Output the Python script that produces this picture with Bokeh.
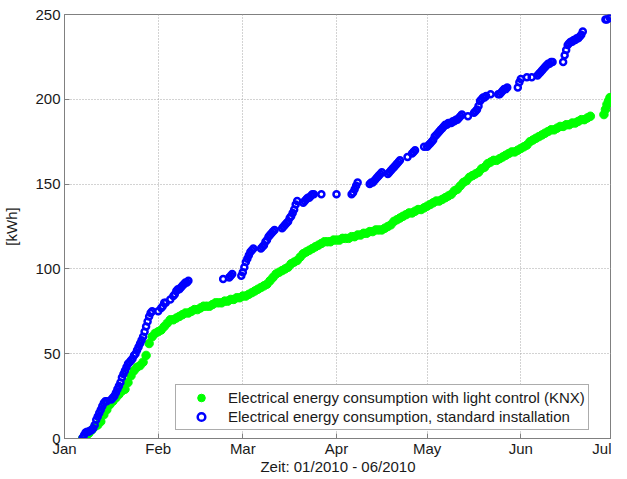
from bokeh.plotting import figure
from bokeh.models import FixedTicker, Range1d, Legend, LegendItem
from bokeh.embed import file_html
from bokeh.resources import INLINE

# ---- tick labels -------------------------------------------------------
month_labels = ["Jan", "Feb", "Mar", "Apr", "May", "Jun", "Jul"]
month_lengths = [31, 28, 31, 30, 31, 30]
y_ticks = [0, 50, 100, 150, 200, 250]

# ---- series: with light control (KNX), day of year 2010 (0 = 1 Jan) ----
knx_day = list(range(6, 175)) + [178.5, 179, 179.5, 180, 180.5]
knx_kwh = [
    0, 1, 3, 5, 7, 8, 10, 14, 17, 20, 22, 24, 26, 28, 29, 33, 37, 40, 42, 43,
    45, 49, 56, 60, 62, 63, 64, 66, 68, 70, 70, 71, 72, 73, 74, 74, 75, 76, 76, 77,
    78, 78, 78, 79, 80, 80, 80, 81, 81, 82, 82, 83, 83, 84, 84, 85, 86, 87, 88, 89,
    90, 91, 93, 95, 97, 98, 99, 100, 101, 103, 104, 105, 107, 109, 110, 111, 112, 113, 114, 115,
    116, 116, 116, 117, 117, 117, 118, 118, 118, 119, 119, 120, 120, 121, 121, 122, 122, 123, 123, 123,
    124, 125, 126, 128, 129, 130, 131, 132, 133, 133, 134, 135, 135, 136, 137, 138, 139, 140, 140, 141,
    142, 143, 144, 146, 147, 149, 151, 152, 154, 155, 156, 157, 159, 160, 162, 163, 164, 164, 165, 166,
    167, 168, 169, 169, 170, 171, 172, 173, 175, 176, 177, 178, 179, 180, 181, 182, 182, 183, 184, 184,
    185, 185, 186, 186, 187, 188, 188, 189, 190,
    191, 194, 197, 199, 201,
]

# ---- series: standard installation ------------------------------------
std_day = [
    6.0, 6.5, 7.0, 7.5, 8.0, 8.5, 9.0, 9.5, 10.0, 10.5, 11.0, 11.5, 12.0, 12.5, 13.0, 13.5, 14.0,
    15.5, 16.0, 16.5, 17.0, 17.5, 18.0, 18.5, 19.0, 19.5, 20.0, 20.5, 21.0, 21.5, 22.0, 22.5,
    23.0, 23.5, 24.0, 24.5, 25.0, 25.5, 26.0, 26.5, 27.0, 27.5, 28.0, 28.5, 29.0,
    31.0,
    32.0, 32.5, 33.0, 33.5,
    35.0,
    36.0, 36.5, 37.0, 37.5, 38.0, 38.5, 39.0, 39.5, 40.0, 40.5, 41.0,
    52.5,
    54.5, 55.0, 55.5,
    58.5, 59.0, 59.5, 60.0, 60.5, 61.0, 61.5, 62.0, 62.5,
    65.0, 65.5, 66.0, 66.5, 67.0, 67.5, 68.0, 68.5, 69.0, 69.5,
    72.0, 72.5, 73.0, 73.5, 74.0, 74.5, 75.0, 75.5, 76.0, 76.5, 77.0,
    79.0, 79.5, 80.0, 80.5, 81.0, 81.5, 82.0, 82.5,
    85.0, 90.0,
    95.0, 95.5, 96.0, 96.5, 97.0,
    101.0, 101.5, 102.0, 102.5, 103.0, 103.5, 104.0, 104.5, 105.0,
    107.0, 107.5, 108.0, 108.5, 109.0, 109.5, 110.0, 110.5, 111.0,
    113.5,
    115.0, 115.5, 116.0,
    119.0,
    120.0, 120.5, 121.0, 121.5, 122.0, 122.5, 123.0, 123.5, 124.0, 124.5, 125.0, 125.5,
    126.0, 126.5, 127.0, 127.5, 128.0, 128.5, 129.0, 129.5, 130.0, 130.5, 131.0, 131.5,
    133.5,
    135.5, 136.0, 136.5, 137.0, 137.5, 138.0, 138.5, 139.0, 139.5,
    141.0,
    143.5, 144.0, 144.5, 145.0, 145.5, 146.0, 146.5,
    150.0, 150.5, 151.0,
    153.0, 154.6,
    156.5, 157.0, 157.5, 158.0, 158.5, 159.0, 159.5, 160.0, 160.5, 161.0, 161.5,
    165.0, 165.5, 166.0, 166.5, 167.0, 167.5, 168.0, 168.5, 169.0, 169.5, 170.0, 170.5, 171.0, 171.5,
    179.0, 179.5, 180.5,
]
std_kwh = [
    0.5, 2, 3.5, 4, 4, 4.5, 5, 6, 8, 11, 13, 15, 17, 19, 21, 22, 22,
    23, 24, 25, 27, 29, 31, 33, 36, 38, 40, 42, 44, 45, 46, 47,
    49, 50, 52, 54, 56, 58, 60, 63, 66, 69, 72, 74, 75,
    75,
    77, 78, 80, 80,
    82,
    84, 85, 87, 88, 88, 89, 90, 91, 92, 92, 93,
    94,
    95, 96, 97,
    96, 98, 101, 104, 106, 108, 110, 111, 112,
    112, 113, 114, 116, 117, 119, 120, 121, 122, 123,
    124, 125, 126, 127, 128, 130, 131, 133, 135, 138, 140,
    139, 140, 141, 142, 142, 143, 144, 144,
    144, 144,
    144, 145, 147, 149, 151,
    150, 151, 151, 152, 153, 154, 155, 156, 157,
    156, 157, 158, 159, 160, 161, 162, 163, 164,
    166,
    168, 169, 170,
    172,
    172, 173, 174, 175, 176, 178, 179, 180, 181, 182, 183, 184,
    185, 185, 186, 186, 186, 187, 187, 188, 188, 189, 190, 191,
    190,
    192, 193, 194, 196, 199, 200, 201, 201, 202,
    203,
    203, 203, 204, 205, 206, 206, 207,
    207, 210, 212,
    213, 213,
    214, 215, 216, 217, 218, 219, 220, 221, 221, 222, 222,
    222, 226, 229, 232, 233, 234, 234, 235, 235, 236, 236, 237, 238, 240,
    247, 247, 248,
]

legend_labels = [
    "Electrical energy consumption with light control (KNX)",
    "Electrical energy consumption, standard installation",
]
x_label = "Zeit: 01/2010 - 06/2010"
y_label = "[kWh]"

month_starts = [0]
for n in month_lengths:
    month_starts.append(month_starts[-1] + n)

FONT = "Liberation Sans"
TXT = "#1a1a1a"
FRAME = "#808080"

p = figure(
    width=611, height=477,
    x_range=Range1d(0, month_starts[-1]), y_range=Range1d(0, 250),
    output_backend="svg", toolbar_location=None,
    min_border_left=59, min_border_right=0, min_border_top=14, min_border_bottom=13,
    background_fill_color="white", border_fill_color="white",
)
p.outline_line_color = FRAME
p.outline_line_width = 1

# axes
p.xaxis.ticker = FixedTicker(ticks=month_starts)
p.xaxis.major_label_overrides = {m: lab for m, lab in zip(month_starts, month_labels)}
p.yaxis.ticker = FixedTicker(ticks=y_ticks)
for ax in (p.xaxis[0], p.yaxis[0]):
    ax.axis_line_color = FRAME
    ax.major_tick_line_color = FRAME
    ax.major_tick_in = 5
    ax.major_tick_out = 0
    ax.minor_tick_line_color = None
    ax.major_label_text_font = FONT
    ax.major_label_text_font_size = "15px"
    ax.major_label_text_color = TXT
    ax.axis_label_text_font = FONT
    ax.axis_label_text_font_size = "15px"
    ax.axis_label_text_font_style = "normal"
    ax.axis_label_text_color = TXT
p.xaxis.axis_label = x_label
p.yaxis.axis_label = y_label
p.xaxis.major_label_standoff = 1
p.xaxis.axis_label_standoff = -2
p.yaxis.major_label_standoff = 4
p.yaxis.axis_label_standoff = 12

# grid
for g in (p.xgrid[0], p.ygrid[0]):
    g.grid_line_color = "#a6a6a6"
    g.grid_line_dash = "1 2"
    g.grid_line_width = 1

g_knx = p.scatter(knx_day, knx_kwh, marker="circle", size=8.5,
                  fill_color="#00ff00", line_color="#00ff00", line_width=1)
g_std = p.scatter(std_day, std_kwh, marker="circle", size=6,
                  fill_color=None, line_color="#0000ff", line_width=2.5)

legend = Legend(
    items=[LegendItem(label=legend_labels[0], renderers=[g_knx]),
           LegendItem(label=legend_labels[1], renderers=[g_std])],
    location=(111, 8),
    padding=3, spacing=0, glyph_width=44, glyph_height=19, label_height=19,
    label_standoff=5,
    label_text_font=FONT, label_text_font_size="15px", label_text_color=TXT,
    border_line_color="#595959", border_line_width=1,
    background_fill_color="white", background_fill_alpha=1,
)
p.add_layout(legend)

open("out.html", "w").write(file_html(p, INLINE))
